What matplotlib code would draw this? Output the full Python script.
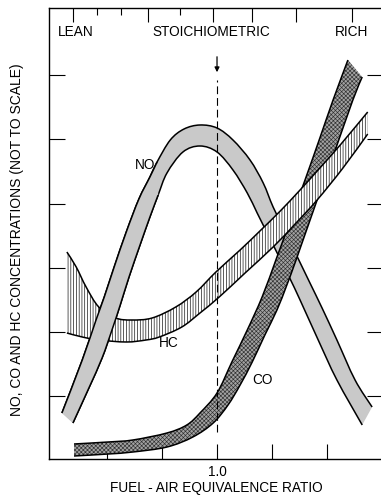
import matplotlib
matplotlib.use("Agg")
from matplotlib import pyplot as plt
from matplotlib.path import Path
from matplotlib.patches import PathPatch
import numpy as np

plt.rcParams['font.family'] = ['Liberation Sans', 'DejaVu Sans']
plt.rcParams['hatch.linewidth'] = 0.45

# fuel-air equivalence ratio (x) vs relative concentration (y, not to scale)
noOuterX = [0.718, 0.755, 0.780, 0.795, 0.813, 0.835, 0.858, 0.878, 0.891, 0.915, 0.940, 0.969,
            1.000, 1.029, 1.060, 1.084, 1.102, 1.125, 1.147, 1.169, 1.191, 1.218, 1.251, 1.282]
noOuterY = [4.6, 9.9, 13.9, 16.2, 19.2, 22.7, 26.0, 28.2, 29.7, 31.9, 33.0, 33.4,
            33.1, 31.9, 29.9, 27.6, 25.2, 22.6, 20.1, 17.6, 15.1, 11.9, 7.9, 5.2]
noInnerX = [0.738, 0.767, 0.791, 0.809, 0.824, 0.840, 0.860, 0.878, 0.893, 0.909, 0.938, 0.969,
            1.000, 1.029, 1.055, 1.073, 1.093, 1.113, 1.133, 1.151, 1.184, 1.218, 1.264]
noInnerY = [3.6, 7.1, 10.1, 12.9, 15.4, 18.2, 21.4, 24.2, 26.4, 28.6, 30.7, 31.3,
            30.7, 28.9, 26.6, 24.6, 22.4, 20.2, 18.0, 15.9, 11.9, 7.9, 3.4]

coUpperX = [0.740, 0.802, 0.847, 0.909, 0.945, 0.969, 1.000, 1.027, 1.055, 1.082,
            1.107, 1.127, 1.160, 1.187, 1.211, 1.238]
coUpperY = [1.5, 1.7, 1.9, 2.6, 3.4, 4.6, 6.6, 9.7, 12.9, 16.2,
            19.9, 22.9, 27.9, 32.1, 35.9, 39.9]
coLowerX = [0.740, 0.802, 0.847, 0.909, 0.956, 0.993, 1.020, 1.042, 1.064, 1.087,
            1.109, 1.127, 1.145, 1.182, 1.215, 1.247, 1.264]
coLowerY = [0.3, 0.5, 0.7, 1.2, 2.2, 3.6, 5.4, 7.4, 9.7, 12.4,
            14.9, 17.4, 20.1, 25.9, 30.9, 35.9, 38.2]

hcUpperX = [0.727, 0.744, 0.762, 0.785, 0.816, 0.845, 0.882, 0.925, 0.962, 0.998,
            1.042, 1.078, 1.115, 1.151, 1.187, 1.224, 1.274]
hcUpperY = [20.7, 19.2, 17.2, 15.2, 14.1, 13.9, 14.1, 15.2, 16.7, 18.7,
            20.9, 22.8, 24.8, 26.9, 29.1, 31.4, 34.7]
hcLowerX = [0.727, 0.755, 0.785, 0.835, 0.871, 0.895, 0.936, 0.969, 1.004, 1.051,
            1.102, 1.142, 1.182, 1.229, 1.274]
hcLowerY = [12.6, 12.2, 11.9, 11.7, 11.9, 12.2, 13.2, 14.6, 16.2, 18.6,
            21.2, 23.5, 25.9, 29.1, 32.5]

stoich = 1.0
bottomTicks = [0.8, 0.9, 1.0, 1.1, 1.2]
bottomLabels = ["", "", "1.0", "", ""]
topLongTicks = [0.738, 0.875, 0.993, 1.064, 1.144, 1.245]
topShortTicks = [0.782, 0.825, 0.933]
sideTicks = [6.3, 12.7, 19.1, 25.5, 32.0, 38.4]


def bezierSegments(x, y):
    # smooth curve through the traced points (Catmull-Rom as cubic Bezier)
    p = np.column_stack([x, y]).astype(float)
    ext = np.vstack([p[0], p, p[-1]])
    verts = []
    for i in range(len(p) - 1):
        p0, p1, p2, p3 = ext[i], ext[i + 1], ext[i + 2], ext[i + 3]
        verts += [p1 + (p2 - p0) / 6, p2 - (p3 - p1) / 6, p2]
    return p[0], verts


def curvePath(x, y):
    start, verts = bezierSegments(x, y)
    return Path([start] + verts, [Path.MOVETO] + [Path.CURVE4] * len(verts))


def drawBand(ax, ux, uy, lx, ly, z, **fillKw):
    s1, v1 = bezierSegments(ux, uy)
    s2, v2 = bezierSegments(lx[::-1], ly[::-1])
    verts = [s1] + v1 + [s2] + v2 + [s1]
    codes = ([Path.MOVETO] + [Path.CURVE4] * len(v1) + [Path.LINETO]
             + [Path.CURVE4] * len(v2) + [Path.CLOSEPOLY])
    ax.add_patch(PathPatch(Path(verts, codes), linewidth=0, zorder=z, **fillKw))
    for cx, cy in ((ux, uy), (lx, ly)):
        ax.add_patch(PathPatch(curvePath(cx, cy), fill=False, edgecolor="black",
                               linewidth=1.1, zorder=z + 0.1, capstyle="butt"))


fig = plt.figure(figsize=(3.81, 4.97), dpi=100)
ax = fig.add_axes([49 / 381, 38 / 497, 334 / 381, 451 / 497])
ax.set_xlim(0.6945, 1.3018)
ax.set_ylim(0, 45.1)

noFill = dict(facecolor="#c9c9c9")
drawBand(ax, noOuterX, noOuterY, noInnerX, noInnerY, 1, **noFill)
drawBand(ax, coUpperX, coUpperY, coLowerX, coLowerY, 2,
         facecolor="#a2a2a2", edgecolor="#303030", hatch="xxxxxxxx")
drawBand(ax, hcUpperX, hcUpperY, hcLowerX, hcLowerY, 3,
         facecolor="white", edgecolor="black", hatch="||||||")

# left limb of NO passes over the HC band
nx, ny = np.asarray(noOuterX), np.asarray(noOuterY)
ix, iy = np.asarray(noInnerX), np.asarray(noInnerY)
drawBand(ax, nx[nx < 0.9], ny[nx < 0.9], ix[ix < 0.9], iy[ix < 0.9], 4, **noFill)

# stoichiometric line and arrow
ax.plot([stoich, stoich], [2.7, 37.9], color="black", lw=0.8,
        linestyle=(0, (7, 3.5)), zorder=5)
ax.annotate("", xy=(stoich, 38.4), xytext=(stoich, 40.5),
            arrowprops=dict(arrowstyle="-|>", lw=0.9, color="black", mutation_scale=7))

fs = 9.8
ax.text(0.743, 42.75, "LEAN", ha="center", va="center", fontsize=fs)
ax.text(0.989, 42.75, "STOICHIOMETRIC", ha="center", va="center", fontsize=fs)
ax.text(1.245, 42.75, "RICH", ha="center", va="center", fontsize=fs)
ax.text(0.869, 29.4, "NO", ha="center", va="center", fontsize=fs, zorder=6)
ax.text(0.913, 11.6, "HC", ha="center", va="center", fontsize=fs, zorder=6)
ax.text(1.082, 7.9, "CO", ha="center", va="center", fontsize=fs, zorder=6)

for side in ["left", "top", "bottom"]:
    ax.spines[side].set_linewidth(1.0)
ax.spines["right"].set_visible(False)

ax.set_xticks(bottomTicks)
ax.set_xticklabels(bottomLabels, fontsize=fs)
ax.tick_params(axis="x", direction="in", length=10.8, width=0.8, pad=4)
ax.set_yticks(sideTicks)
ax.set_yticklabels([])
ax.tick_params(axis="y", direction="in", length=11.5, width=0.8,
               left=True, right=True)
ax.set_xlabel("FUEL - AIR EQUIVALENCE RATIO", fontsize=fs, labelpad=2)

top = ax.twiny()
top.set_xlim(ax.get_xlim())
top.set_xticks(topLongTicks)
top.set_xticks(topShortTicks, minor=True)
top.tick_params(axis="x", which="major", direction="in", length=10, width=0.8, labeltop=False)
top.tick_params(axis="x", which="minor", direction="in", length=5, width=0.8, labeltop=False)
for s in top.spines.values():
    s.set_visible(False)

fig.text(17 / 381, 1 - 240 / 497, "NO, CO AND HC CONCENTRATIONS (NOT TO SCALE)",
         rotation=90, ha="center", va="center", fontsize=10)

fig.savefig("out.png", dpi=100)
